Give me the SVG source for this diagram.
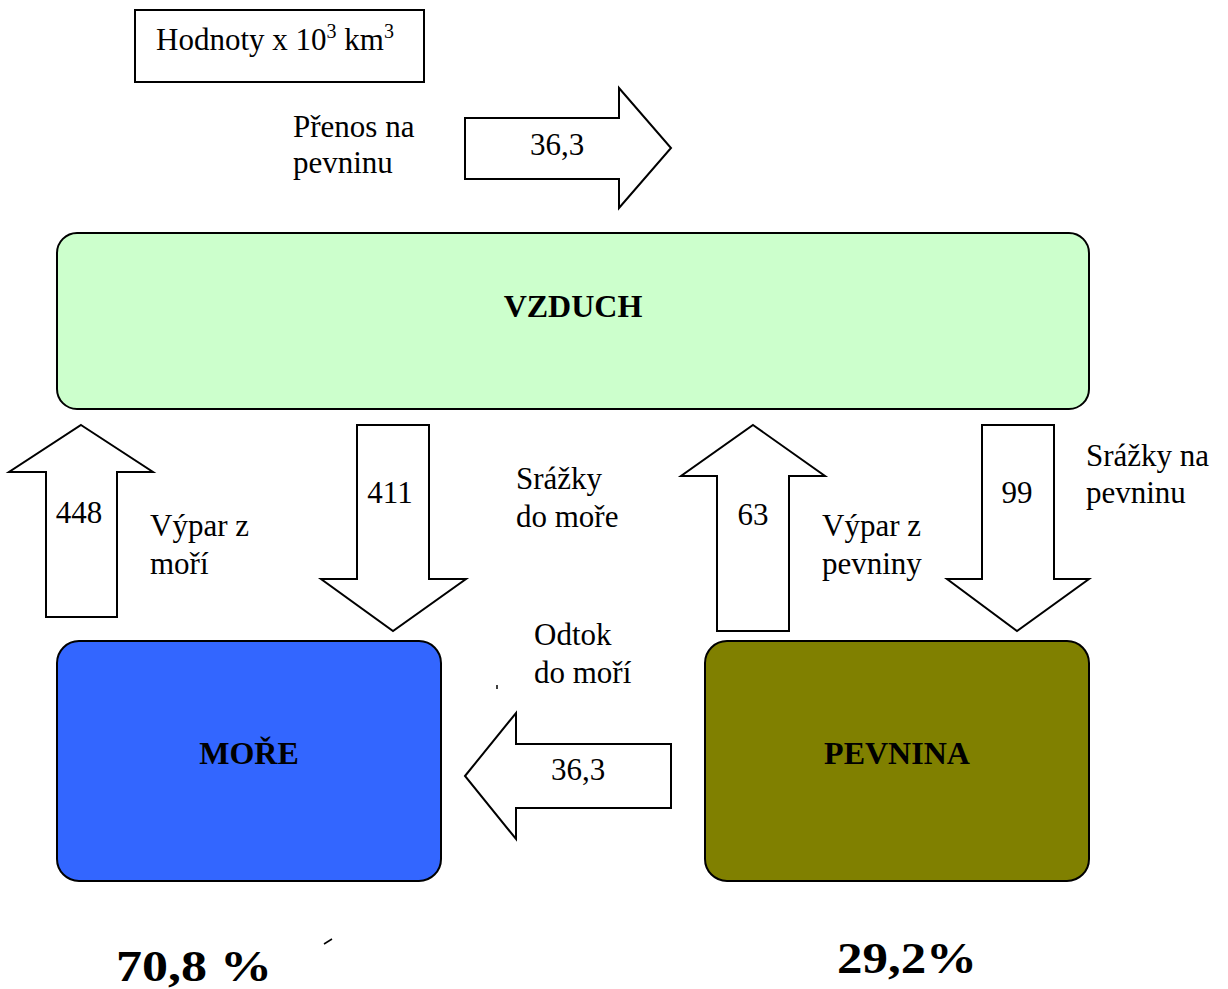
<svg xmlns="http://www.w3.org/2000/svg" width="1228" height="989" viewBox="0 0 1228 989">
<style>
.t{font-family:"Liberation Serif","Times New Roman","DejaVu Serif",serif;font-size:31px;fill:#000}
.b{font-family:"Liberation Serif","Times New Roman","DejaVu Serif",serif;font-size:32px;font-weight:bold;fill:#000}
.big{font-family:"Liberation Serif","Times New Roman","DejaVu Serif",serif;font-size:44px;font-weight:bold;fill:#000}
.box{stroke:#000;stroke-width:2}
.arr{fill:#fff;stroke:#000;stroke-width:2;stroke-linejoin:miter}
</style>
<rect width="1228" height="989" fill="#fff"/>
<g id="legend">
<rect x="135" y="10" width="289" height="72" fill="#fff" stroke="#000" stroke-width="2"/>
<text class="t" x="156" y="50">Hodnoty x 10<tspan font-size="20" dy="-12">3</tspan><tspan dy="12"> km</tspan><tspan font-size="20" dy="-12">3</tspan></text>
</g>
<g id="vzduch">
<rect class="box" x="57" y="233" width="1032" height="176" rx="20" fill="#CCFFCC"/>
<text class="b" x="573" y="317" text-anchor="middle">VZDUCH</text>
</g>
<g id="more">
<rect class="box" x="57" y="641" width="384" height="240" rx="22" fill="#3366FF"/>
<text class="b" x="249" y="764" text-anchor="middle">MOŘE</text>
</g>
<g id="pevnina">
<rect class="box" x="705" y="641" width="384" height="240" rx="22" fill="#808000"/>
<text class="b" x="897" y="764" text-anchor="middle">PEVNINA</text>
</g>
<g id="connectors">
<g id="prenos">
<polygon class="arr" points="465,118 619,118 619,88 671,148 619,208 619,179 465,179"/>
<text class="t" x="557" y="155" text-anchor="middle">36,3</text>
</g>
<g id="vypar-mori">
<polygon class="arr" points="81,425 153,472 117,472 117,617 46,617 46,472 9,472"/>
<text class="t" x="79" y="523" text-anchor="middle">448</text>
</g>
<g id="srazky-more">
<polygon class="arr" points="357,425 429,425 429,579 466,579 393,631 321,579 357,579"/>
<text class="t" x="390" y="503" text-anchor="middle">411</text>
</g>
<g id="vypar-pevniny">
<polygon class="arr" points="753,425 825,476 789,476 789,631 717,631 717,476 681,476"/>
<text class="t" x="753" y="525" text-anchor="middle">63</text>
</g>
<g id="srazky-pevnina">
<polygon class="arr" points="982,425 1054,425 1054,579 1089,579 1017,631 947,579 982,579"/>
<text class="t" x="1017" y="503" text-anchor="middle">99</text>
</g>
<g id="odtok">
<polygon class="arr" points="465,776 516,713 516,744 671,744 671,808 516,808 516,839"/>
<text class="t" x="578" y="780" text-anchor="middle">36,3</text>
</g>
</g>
<g id="labels">
<text class="t" x="293" y="137">Přenos na</text>
<text class="t" x="293" y="173">pevninu</text>
<text class="t" x="150" y="536">Výpar z</text>
<text class="t" x="150" y="574">moří</text>
<text class="t" x="516" y="489">Srážky</text>
<text class="t" x="516" y="527">do moře</text>
<text class="t" x="822" y="536">Výpar z</text>
<text class="t" x="822" y="574">pevniny</text>
<text class="t" x="1086" y="466">Srážky na</text>
<text class="t" x="1086" y="503">pevninu</text>
<text class="t" x="534" y="645">Odtok</text>
<text class="t" x="534" y="683">do moří</text>
<text class="big" x="116" y="981" textLength="156" lengthAdjust="spacingAndGlyphs">70,8 %</text>
<text class="big" x="837" y="973" textLength="140" lengthAdjust="spacingAndGlyphs">29,2%</text>
<line x1="497" y1="685" x2="497" y2="689" stroke="#000" stroke-width="1.5"/>
<line x1="324" y1="944" x2="332" y2="939" stroke="#000" stroke-width="1.5"/>
</g>
</svg>
